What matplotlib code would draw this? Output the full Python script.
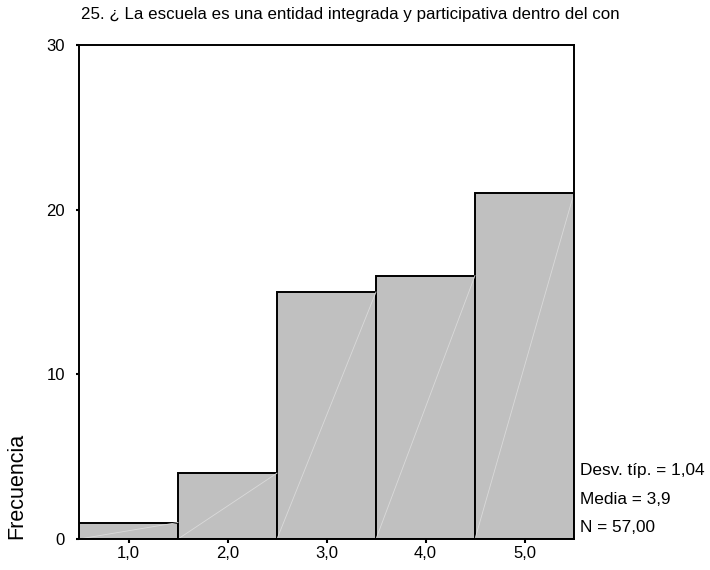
import matplotlib.pyplot as plt

# histogram data
categories = [1, 2, 3, 4, 5]
counts = [1, 4, 15, 16, 21]
tick_labels = ["1,0", "2,0", "3,0", "4,0", "5,0"]
stats_lines = ["Desv. típ. = 1,04", "Media = 3,9", "N = 57,00"]
title = "25. ¿ La escuela es una entidad integrada y participativa dentro del con"

plt.rcParams['font.family'] = ['Liberation Sans', 'DejaVu Sans']

fig = plt.figure(figsize=(7.1, 5.7), dpi=100)
ax = fig.add_axes([79/710, 1-539/570, (574-79)/710, (539-45)/570])

ax.bar(categories, counts, width=1.0, color='#c0c0c0', edgecolor='black', linewidth=1.4)
# faint diagonal line inside each bar (SPSS rendering artefact)
for x, c in zip(categories, counts):
    ax.plot([x-0.5, x+0.5], [0, c], color='#dadada', linewidth=0.6)

ax.set_xlim(0.5, 5.5)
ax.set_ylim(0, 30)
ax.set_yticks([0, 10, 20, 30])
ax.set_xticks(categories)
ax.set_xticklabels(tick_labels)
for s in ax.spines.values():
    s.set_linewidth(1.4)
ax.tick_params(axis='y', direction='out', length=2.5, width=1.5, pad=7.5, labelsize=12)
ax.tick_params(axis='x', direction='out', length=3, width=1.5, pad=2, labelsize=12)

ax.set_ylabel("Frecuencia", fontsize=15.5, loc='bottom', labelpad=13.5)
fig.text(350/710, 1-15/570, title, ha='center', va='center', fontsize=12.2)

# summary stats to the right of the frame
for i, line in enumerate(stats_lines):
    ax.text(1.013, (539-470)/494 - i*29/494, line, transform=ax.transAxes,
            ha='left', va='center', fontsize=12.4)

fig.savefig("out.png", dpi=100)
